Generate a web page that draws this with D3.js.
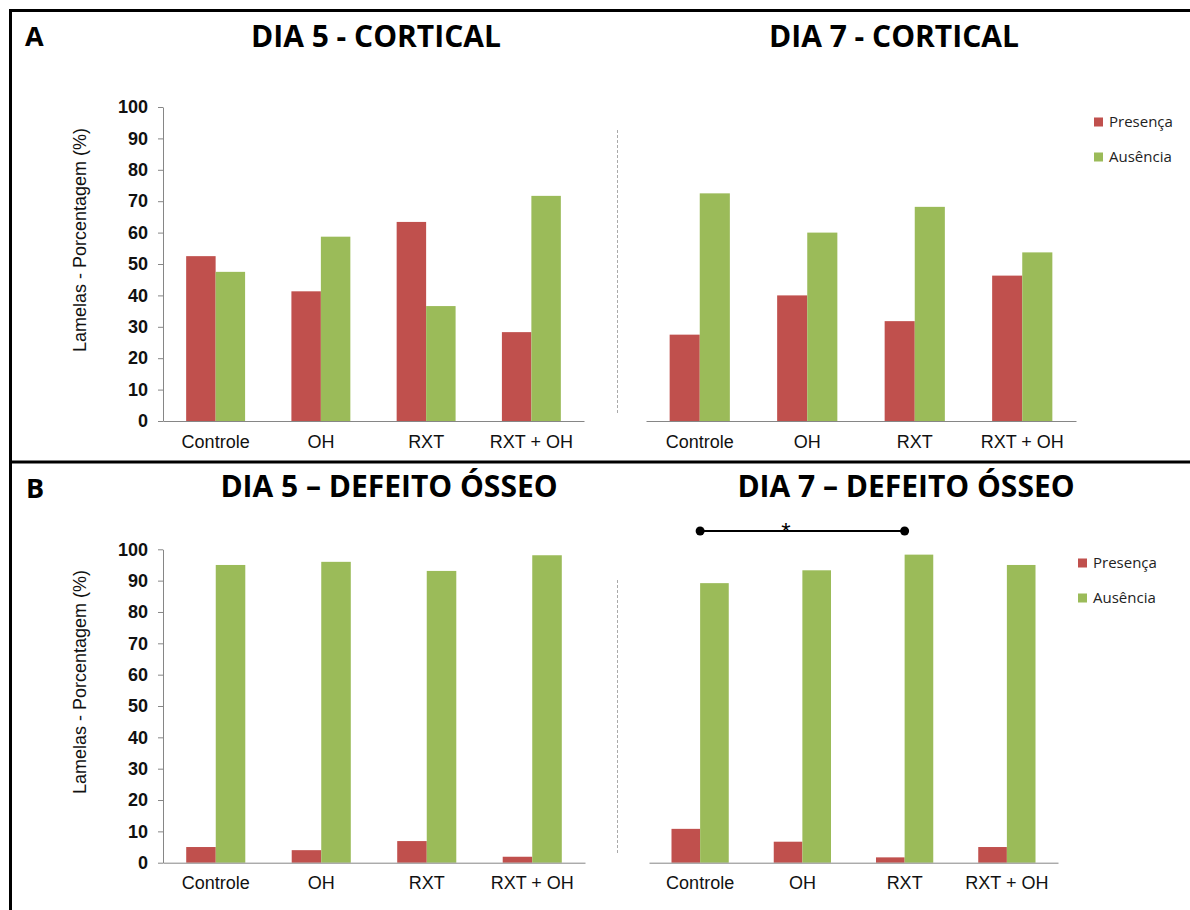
<!DOCTYPE html>
<html>
<head>
<meta charset="utf-8">
<script src="https://cdn.jsdelivr.net/npm/d3@7"></script>
<style>
  body { margin: 0; background: #fff; }
  svg { display: block; }
</style>
</head>
<body>
<script>
// dados
var categorias = ["Controle", "OH", "RXT", "RXT + OH"];
var series = ["Presença", "Ausência"];
var yTicks = [0, 10, 20, 30, 40, 50, 60, 70, 80, 90, 100];

var dia5CorticalPresenca = [52.5, 41.3, 63.4, 28.3];
var dia5CorticalAusencia = [47.5, 58.7, 36.6, 71.7];
var dia7CorticalPresenca = [27.5, 40.0, 31.8, 46.3];
var dia7CorticalAusencia = [72.5, 60.0, 68.2, 53.7];
var dia5DefeitoPresenca = [5.0, 4.0, 6.9, 1.9];
var dia5DefeitoAusencia = [95.0, 96.0, 93.1, 98.1];
var dia7DefeitoPresenca = [10.8, 6.7, 1.7, 5.0];
var dia7DefeitoAusencia = [89.2, 93.3, 98.3, 95.0];

var cores = ["#C0504D", "#9BBB59"];
var eixoCor = "#868686";

var canvas = d3.select("body").append("svg")
    .attr("width", 1190)
    .attr("height", 910);

window.onload = function(){
    setup();
};

function setup(){
    drawFrame();

    drawPanel({ x0: 163, x1: 584, yTop: 107, yBase: 421, pres: dia5CorticalPresenca, aus: dia5CorticalAusencia,
        eixoY: true, titulo: "DIA 5 - CORTICAL", tx: 376, ty: 47 });
    drawPanel({ x0: 646, x1: 1076, yTop: 107, yBase: 421, pres: dia7CorticalPresenca, aus: dia7CorticalAusencia,
        eixoY: false, titulo: "DIA 7 - CORTICAL", tx: 894, ty: 47, dashTop: 130,
        legX: 1094, legY: 122 });
    drawPanel({ x0: 163, x1: 585, yTop: 549.3, yBase: 862.7, pres: dia5DefeitoPresenca, aus: dia5DefeitoAusencia,
        eixoY: true, titulo: "DIA 5 \u2013 DEFEITO ÓSSEO", tx: 389, ty: 497 });
    var xB = drawPanel({ x0: 649, x1: 1058, yTop: 549.3, yBase: 862.7, pres: dia7DefeitoPresenca, aus: dia7DefeitoAusencia,
        eixoY: false, titulo: "DIA 7 \u2013 DEFEITO ÓSSEO", tx: 906, ty: 497, dashTop: 580,
        legX: 1078, legY: 563 });

    // significancia Controle x RXT
    var xa = xB(categorias[0]) + xB.bandwidth() / 2;
    var xc = xB(categorias[2]) + xB.bandwidth() / 2;
    canvas.append("line")
        .attr("x1", xa).attr("x2", xc)
        .attr("y1", 531).attr("y2", 531)
        .attr("stroke", "black")
        .attr("stroke-width", 2);
    canvas.selectAll(".sig").data([xa, xc]).enter().append("circle")
        .attr("cx", function(d){ return d; })
        .attr("cy", 531)
        .attr("r", 4.5)
        .attr("fill", "black");
    canvas.append("text")
        .attr("x", 786)
        .attr("y", 540)
        .attr("text-anchor", "middle")
        .style("font-family", "Liberation Sans, Arial, sans-serif")
        .style("font-size", "24px")
        .text("*");
}

function drawFrame(){
    canvas.append("path")
        .attr("d", "M10.5,910 V10.5 H1190")
        .attr("fill", "none")
        .attr("stroke", "black")
        .attr("stroke-width", 3);
    canvas.append("line")
        .attr("x1", 9).attr("x2", 1190)
        .attr("y1", 462).attr("y2", 462)
        .attr("stroke", "black")
        .attr("stroke-width", 3);

    canvas.append("text").attr("x", 25).attr("y", 46)
        .style("font-family", "Open Sans, sans-serif")
        .style("font-weight", "bold")
        .style("font-size", "27px")
        .text("A");
    canvas.append("text").attr("x", 26).attr("y", 498)
        .style("font-family", "Open Sans, sans-serif")
        .style("font-weight", "bold")
        .style("font-size", "27px")
        .text("B");
}

function drawPanel(p){
    var x = d3.scaleBand()
        .domain(categorias)
        .range([p.x0, p.x1])
        .paddingInner(0.44)
        .paddingOuter(0.22);
    var y = d3.scaleLinear()
        .domain([0, 100])
        .range([p.yBase, p.yTop]);

    var g = canvas.append("g");

    // titulo
    canvas.append("text")
        .attr("x", p.tx)
        .attr("y", p.ty)
        .attr("text-anchor", "middle")
        .style("font-family", "Open Sans, sans-serif")
        .style("font-weight", "bold")
        .style("font-size", "30px")
        .text(p.titulo);

    var linhas = categorias.map(function(c, i){
        return { cat: c, vals: [p.pres[i], p.aus[i]] };
    });

    var grupos = g.selectAll(".grupo").data(linhas).enter().append("g")
        .attr("transform", function(d){ return "translate(" + x(d.cat) + ",0)"; });
    var w = x.bandwidth() / 2;
    grupos.selectAll("rect")
        .data(function(d){ return d.vals; })
        .enter().append("rect")
        .attr("x", function(d, i){ return i * w; })
        .attr("width", w)
        .attr("y", function(d){ return y(d); })
        .attr("height", function(d){ return p.yBase - y(d); })
        .attr("fill", function(d, i){ return cores[i]; });

    // eixo x
    var ax = g.append("g")
        .attr("transform", "translate(0," + p.yBase + ")")
        .call(d3.axisBottom(x).tickSize(0).tickPadding(14).tickSizeOuter(0));
    ax.select(".domain").attr("stroke", eixoCor);
    ax.selectAll("text")
        .style("font-family", "Liberation Sans, Arial, sans-serif")
        .style("font-size", "18px")
        .attr("fill", "#111");

    if (p.eixoY) {
        var ay = g.append("g")
            .attr("transform", "translate(" + p.x0 + ",0)")
            .call(d3.axisLeft(y).tickValues(yTicks).tickSize(5).tickPadding(10).tickSizeOuter(0));
        ay.select(".domain").attr("stroke", eixoCor);
        ay.selectAll(".tick line").attr("stroke", eixoCor);
        ay.selectAll("text")
            .style("font-family", "Liberation Sans, Arial, sans-serif")
            .style("font-weight", "bold")
            .style("font-size", "18px")
            .attr("fill", "#111");

        canvas.append("text")
            .attr("transform", "translate(80," + ((p.yTop + p.yBase) / 2 - 24) + ") rotate(-90)")
            .attr("text-anchor", "middle")
            .attr("dy", "0.35em")
            .style("font-family", "Liberation Sans, Arial, sans-serif")
            .style("font-size", "18px")
            .attr("fill", "#111")
            .text("Lamelas - Porcentagem (%)");
    } else {
        // linha tracejada entre os paineis
        canvas.append("line")
            .attr("x1", 617.5).attr("x2", 617.5)
            .attr("y1", p.dashTop).attr("y2", p.yBase - 8)
            .attr("stroke", "#aaaaaa")
            .attr("stroke-dasharray", "3,2");

        var leg = canvas.append("g");
        leg.selectAll("rect").data(series).enter().append("rect")
            .attr("x", p.legX)
            .attr("y", function(d, i){ return p.legY - 4.5 + i * 35; })
            .attr("width", 9)
            .attr("height", 9)
            .attr("fill", function(d, i){ return cores[i]; });
        leg.selectAll("text").data(series).enter().append("text")
            .attr("x", p.legX + 15)
            .attr("y", function(d, i){ return p.legY + i * 35; })
            .attr("dy", "0.35em")
            .style("font-family", "Open Sans, sans-serif")
            .style("font-size", "15px")
            .attr("fill", "#222")
            .text(function(d){ return d; });
    }

    return x;
}
</script>
</body>
</html>
